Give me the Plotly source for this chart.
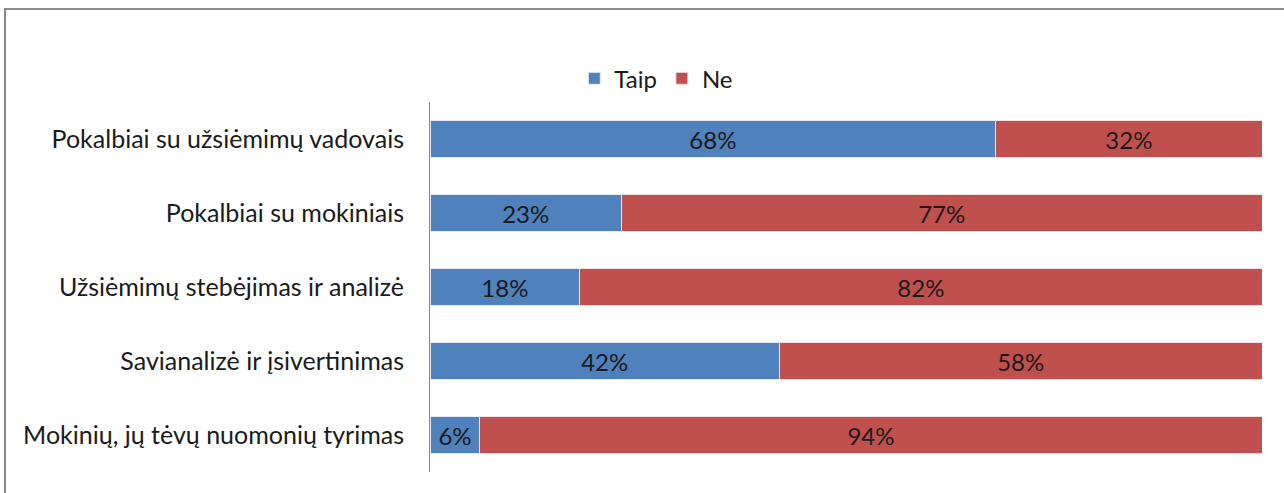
import plotly.graph_objects as go

categories = [
    "Pokalbiai su užsiėmimų vadovais",
    "Pokalbiai su mokiniais",
    "Užsiėmimų stebėjimas ir analizė",
    "Savianalizė ir įsivertinimas",
    "Mokinių, jų tėvų nuomonių tyrimas",
]
taip = [68, 23, 18, 42, 6]
ne = [32, 77, 82, 58, 94]

FONT = "Lato"
FS = 24
fig = go.Figure()
fig.add_trace(go.Bar(
    y=categories, x=[v / 100 for v in taip], name="Taip", orientation="h",
    marker=dict(color="#4F81BD", line=dict(color="#E6ECF5", width=1)),
    text=[f"{v}%" for v in taip], textposition="inside", insidetextanchor="middle",
    textfont=dict(family=FONT, size=FS, color="#1a1a1a"),
))
fig.add_trace(go.Bar(
    y=categories, x=[v / 100 for v in ne], name="Ne", orientation="h",
    marker=dict(color="#C0504D", line=dict(color="#F2E0E0", width=1)),
    text=[f"{v}%" for v in ne], textposition="inside", insidetextanchor="middle",
    textfont=dict(family=FONT, size=FS, color="#1a1a1a"),
))

fig.update_layout(
    barmode="stack",
    bargap=0.5,
    width=1284, height=493,
    margin=dict(l=430, r=22, t=102, b=21, autoexpand=False),
    plot_bgcolor="white", paper_bgcolor="white",
    font=dict(family=FONT, size=FS, color="#1a1a1a"),
    uniformtext=dict(mode="show", minsize=10),
    legend=dict(orientation="h", x=0.272, y=1.063, xanchor="center", yanchor="middle",
                traceorder="normal",
                font=dict(family=FONT, size=FS, color="#1a1a1a"),
                itemwidth=30, tracegroupgap=0),
    xaxis=dict(range=[0, 1], showgrid=False, zeroline=False, showticklabels=False,
               showline=False, fixedrange=True),
    yaxis=dict(autorange="reversed", showgrid=False, showline=True, linecolor="#888888",
               linewidth=1, ticks="", ticklabelstandoff=20, automargin=False,
               tickfont=dict(family=FONT, size=25, color="#1a1a1a")),
    shapes=[dict(type="rect", xref="paper", yref="paper",
                 x0=-0.5108, x1=1.2, y0=-0.3, y1=1.2514,
                 line=dict(color="#8a8a8a", width=2), fillcolor="rgba(0,0,0,0)",
                 layer="below")],
)

fig.write_html("out.html", config={"displayModeBar": False},
               post_script="document.body.style.margin='0';document.body.style.overflow='hidden';")
